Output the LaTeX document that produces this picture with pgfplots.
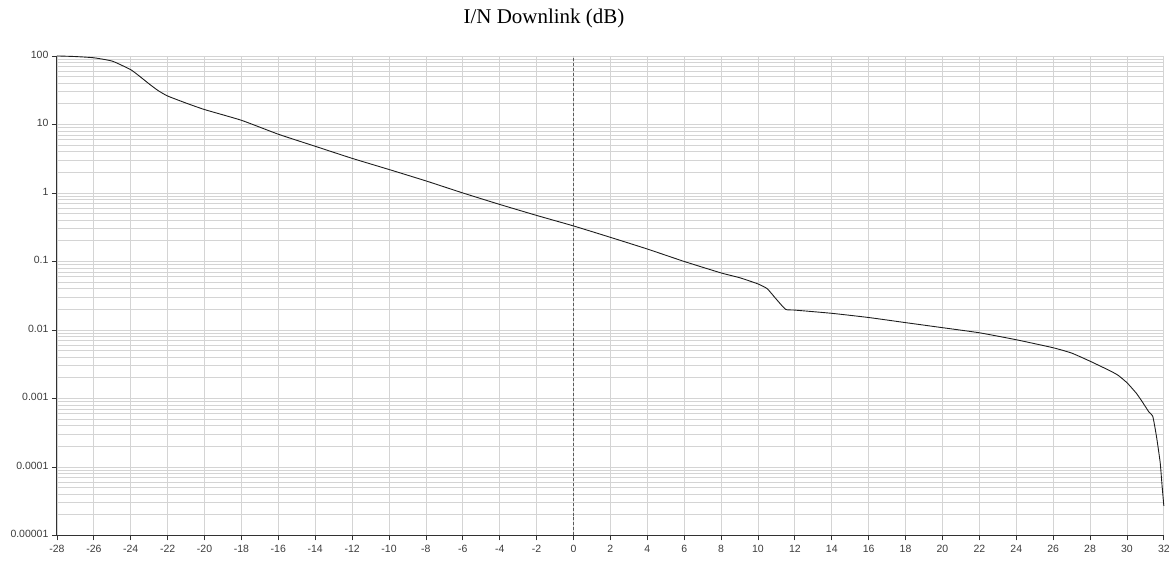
\documentclass[border=0pt]{standalone}
\usepackage{fontspec}
\setmainfont{Liberation Sans}
\newfontfamily\titlefont{Liberation Serif}
\usepackage{pgfplots}
\pgfplotsset{compat=1.18}
\usepackage{pgfplotstable}

\definecolor{gridgray}{RGB}{212,212,212}
\definecolor{axisdark}{RGB}{50,50,50}
\definecolor{labelgray}{RGB}{60,60,60}
\definecolor{curve}{RGB}{30,30,30}

% I/N downlink CDF
\pgfplotstableread{
x y
-28 100
-27 98
-26 94
-25 84
-24 63
-23.5 50
-23 39
-22.5 31
-22 26
-21 20.5
-20 16.5
-18 11.5
-16 7.2
-14 4.8
-12 3.2
-10 2.2
-8 1.5
-6 1.0
-4 0.68
-2 0.47
0 0.33
2 0.225
4 0.152
6 0.1
8 0.068
9 0.058
10 0.047
10.5 0.04
11 0.028
11.5 0.02
12 0.0195
14 0.0175
16 0.0152
18 0.0128
20 0.0108
22 0.0091
24 0.0072
26 0.0055
27 0.0046
28 0.0035
29 0.0026
29.5 0.0022
30 0.0017
30.5 0.0012
30.8 0.00092
31.2 0.00063
31.4 0.00055
31.6 0.00028
31.8 0.000117
31.9 0.000055
32 0.000027
}\indata

\begin{document}
\begin{tikzpicture}
\begin{axis}[
  scale only axis,
  width=1108pt, height=480pt,
  xmin=-28, xmax=32,
  ymode=log, ymin=1e-5, ymax=100,
  axis lines*=left,
  axis line style={axisdark, line width=0.9pt},
  xtick={-28,-26,...,32},
  xticklabels={-28,-26,-24,-22,-20,-18,-16,-14,-12,-10,-8,-6,-4,-2,0,2,4,6,8,10,12,14,16,18,20,22,24,26,28,30,32},
  ytick={1e-5,1e-4,1e-3,1e-2,1e-1,1,10,100},
  yticklabels={0.00001,0.0001,0.001,0.01,0.1,1,10,100},
  tick align=outside,
  major tick length=5pt,
  minor tick length=0pt,
  tick style={axisdark, line width=0.8pt},
  xmajorgrids, ymajorgrids, yminorgrids,
  major grid style={gridgray, line width=0.8pt},
  minor grid style={gridgray, line width=0.8pt},
  ticklabel style={font=\fontsize{10.5}{12}\selectfont, text=labelgray},
  typeset ticklabels with strut,
  /pgf/number format/assume math mode=true,
  title={\titlefont\fontsize{21}{24}\selectfont I/N Downlink (dB)},
  title style={at={(0.44,1)}, anchor=south, yshift=18pt},
  clip=false,
]
\addplot[axisdark!80, line width=0.8pt, dash pattern=on 3pt off 2pt] coordinates {(0,1e-5) (0,100)};
\addplot[curve, line width=0.9pt, smooth, tension=0.3] table[x=x, y=y] {\indata};
\path (rel axis cs:0,0) coordinate (o);
\end{axis}
\path ([shift={(-57pt,-29pt)}]o) rectangle ([shift={(1116pt,536pt)}]o);
\end{tikzpicture}
\end{document}
